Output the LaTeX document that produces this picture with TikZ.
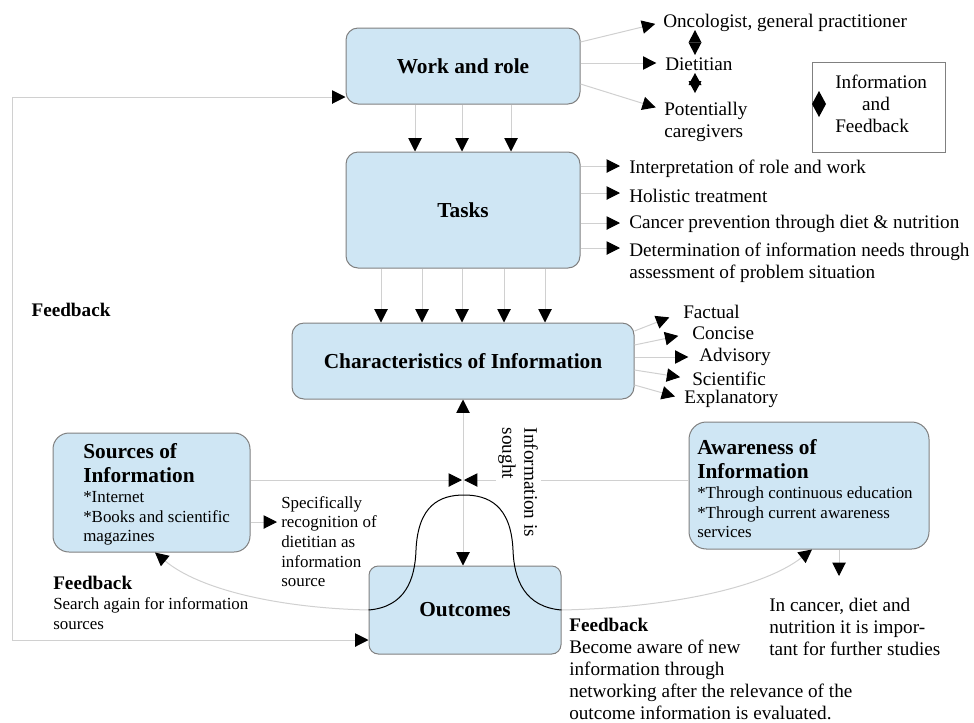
\documentclass[tikz,border=0pt]{standalone}
\usepackage{fontspec}
\setmainfont{Liberation Serif}
\usetikzlibrary{arrows.meta}

\definecolor{boxblue}{RGB}{207,230,244}
\definecolor{boxline}{RGB}{128,128,128}
\definecolor{linkgray}{RGB}{208,208,208}

\begin{document}
\begin{tikzpicture}[x=0.75pt,y=-0.75pt,
    blk/.tip={Triangle[length=10pt,width=10pt,color=black]},
    box/.style={draw=boxline,fill=boxblue,line width=0.75pt,rounded corners=9pt,inner sep=0pt,font=\bfseries\fontsize{16}{18}\selectfont},
    note/.style={anchor=west,inner sep=0pt,align=left,font=\fontsize{14.4}{16.5}\selectfont},
    small/.style={note,font=\fontsize{12.7}{14.6}\selectfont},
    head/.style={note,font=\bfseries\fontsize{16}{18}\selectfont},
    link/.style={draw=linkgray,line width=0.75pt,-blk},
    twoway/.style={draw=linkgray,line width=0.75pt,blk-blk}]
    \useasboundingbox (0,0) rectangle (974,722);

    \node[box,minimum width=175.5pt,minimum height=57pt] (work) at (463,66) {Work and role};
    \node[box,minimum width=175.5pt,minimum height=87pt] (tasks) at (463,210) {Tasks};
    \node[box,minimum width=256.5pt,minimum height=57pt] (chars) at (463,361) {Characteristics of Information};
    \node[box,minimum width=144pt,minimum height=66pt,rounded corners=7pt] (outc) at (465,610) {Outcomes};
    \node[box,minimum width=147.75pt,minimum height=89.25pt,rounded corners=12pt] (src) at (151.5,492.5) {};
    \node[box,minimum width=180pt,minimum height=95.25pt,rounded corners=13pt] (aware) at (809,485.5) {};
    \node[draw=boxline,minimum width=99.75pt,minimum height=67.5pt] (legend) at (878.5,107) {};

    \node[note] (onc) at (663,23) {Oncologist, general practitioner};
    \node[note] (diet) at (665,64) {Dietitian};
    \node[note] (pot) at (664,122) {Potentially\\caregivers};
    \node[note] (legtext) at (835,104) {Information\\\hspace*{1.4em}and\\Feedback};
    \fill (819,91) -- (826,104) -- (819,117) -- (812,104) -- cycle;

    \node[note] (t1) at (629,169) {Interpretation of role and work};
    \node[note] (t2) at (629,196) {Holistic treatment};
    \node[note] (t3) at (629,224) {Cancer prevention through diet \& nutrition};
    \node[note] (t4) at (629,263) {Determination of information needs through\\assessment of problem situation};

    \node[note] (c1) at (683,312) {Factual};
    \node[note] (c2) at (692,333) {Concise};
    \node[note] (c3) at (699,357) {Advisory};
    \node[note] (c4) at (692,379) {Scientific};
    \node[note] (c5) at (684,399) {Explanatory};

    \node[note,anchor=center,font=\bfseries\fontsize{14.4}{16.5}\selectfont] (fbloop) at (71,310) {Feedback};

    \node[head] (srchead) at (83,463) {Sources of\\Information};
    \node[small] (srcitems) at (83,518.5) {*Internet\\*Books and scientific\\magazines};
    \node[small,font=\fontsize{12.7}{14.8}\selectfont] (spec) at (281,541.6) {Specifically\\recognition of\\dietitian as\\information\\source};
    \node[small,font=\fontsize{12.7}{15}\selectfont] (fbsrc) at (53,603) {{\bfseries\fontsize{14.4}{15}\selectfont Feedback}\\Search again for information\\sources};

    \node[head] (awhead) at (697,459) {Awareness of\\Information};
    \node[small] (awitems) at (697,512.5) {*Through continuous education\\*Through current awareness\\services};
    \node[note] (study) at (769,627) {In cancer, diet and\\nutrition it is impor-\\tant for further studies};
    \node[note] (fbaware) at (569,669) {\textbf{Feedback}\\Become aware of new\\information through\\networking after the relevance of the\\outcome information is evaluated.};

    \fill (695,30) -- (701.5,42.5) -- (688.5,42.5) -- cycle;
    \fill (695,55) -- (701.5,42.5) -- (688.5,42.5) -- cycle;
    \fill (695,73) -- (701.5,85) -- (688.5,85) -- cycle;
    \fill (695,93) -- (701.5,81) -- (688.5,81) -- cycle;

    \draw[link,shorten >=6pt] (work.east |- 0,42) -- (onc.west |- 0,22);
    \draw[link,shorten >=6.5pt] (work.east |- 0,63) -- (diet.west |- 0,63);
    \draw[link,shorten >=6.5pt] (work.east |- 0,84) -- (pot.west |- 0,110);

    \foreach \x in {415,462,511}
        \draw[link] (\x,0 |- work.south) -- (\x,0 |- tasks.north);
    \foreach \x in {381,422,462,504,545}
        \draw[link] (\x,0 |- tasks.south) -- (\x,0 |- chars.north);
    \foreach \y/\n in {166/t1,193/t2,223/t3,248/t4}
        \draw[link,shorten >=6.75pt] (tasks.east |- 0,\y) -- (\n.west |- 0,\y);
    \foreach \y/\n/\s in {331/c1/11pt,345/c2/10.5pt,357/c3/8pt,370/c4/9pt,385/c5/7pt}
        \draw[link,shorten >=\s] (chars.east |- 0,\y) -- (\n.west);

    \coordinate (tie) at (463,480);
    \draw[link,shorten >=0.75pt] (src.east |- tie) -- (tie);
    \draw[link,shorten >=0.75pt] (aware.west |- tie) -- (tie);
    \draw[twoway] (chars.south) -- (chars.south |- outc.north);
    \draw[link,shorten >=3pt] (src.east |- 0,522) -- (spec.west |- 0,522);
    \node[note,anchor=center,rotate=-90,fill=white,inner sep=2pt] (sought) at (518,482.5) {Information is\\sought};

    \coordinate (studytip) at (839,576);
    \draw[link] (839,0 |- aware.south) -- (studytip);

    \draw[twoway] (work.west |- 0,97) -| (12,640) -- (outc.west |- 0,640);
    \draw[link] (outc.west |- 0,610) .. controls (280,608) and (200,590) .. (155,0 |- src.south);
    \draw[link] (outc.east |- 0,610) .. controls (660,608) and (760,590) .. (812,0 |- aware.south);
    \draw[black,line width=0.75pt] (outc.west |- 0,610) .. controls (405,607) and (415,580) .. (416,550)
        .. controls (418,505) and (440,495) .. (464,495) .. controls (488,495) and (511,505) .. (513,550)
        .. controls (514,580) and (525,607) .. (outc.east |- 0,610);
\end{tikzpicture}
\end{document}
